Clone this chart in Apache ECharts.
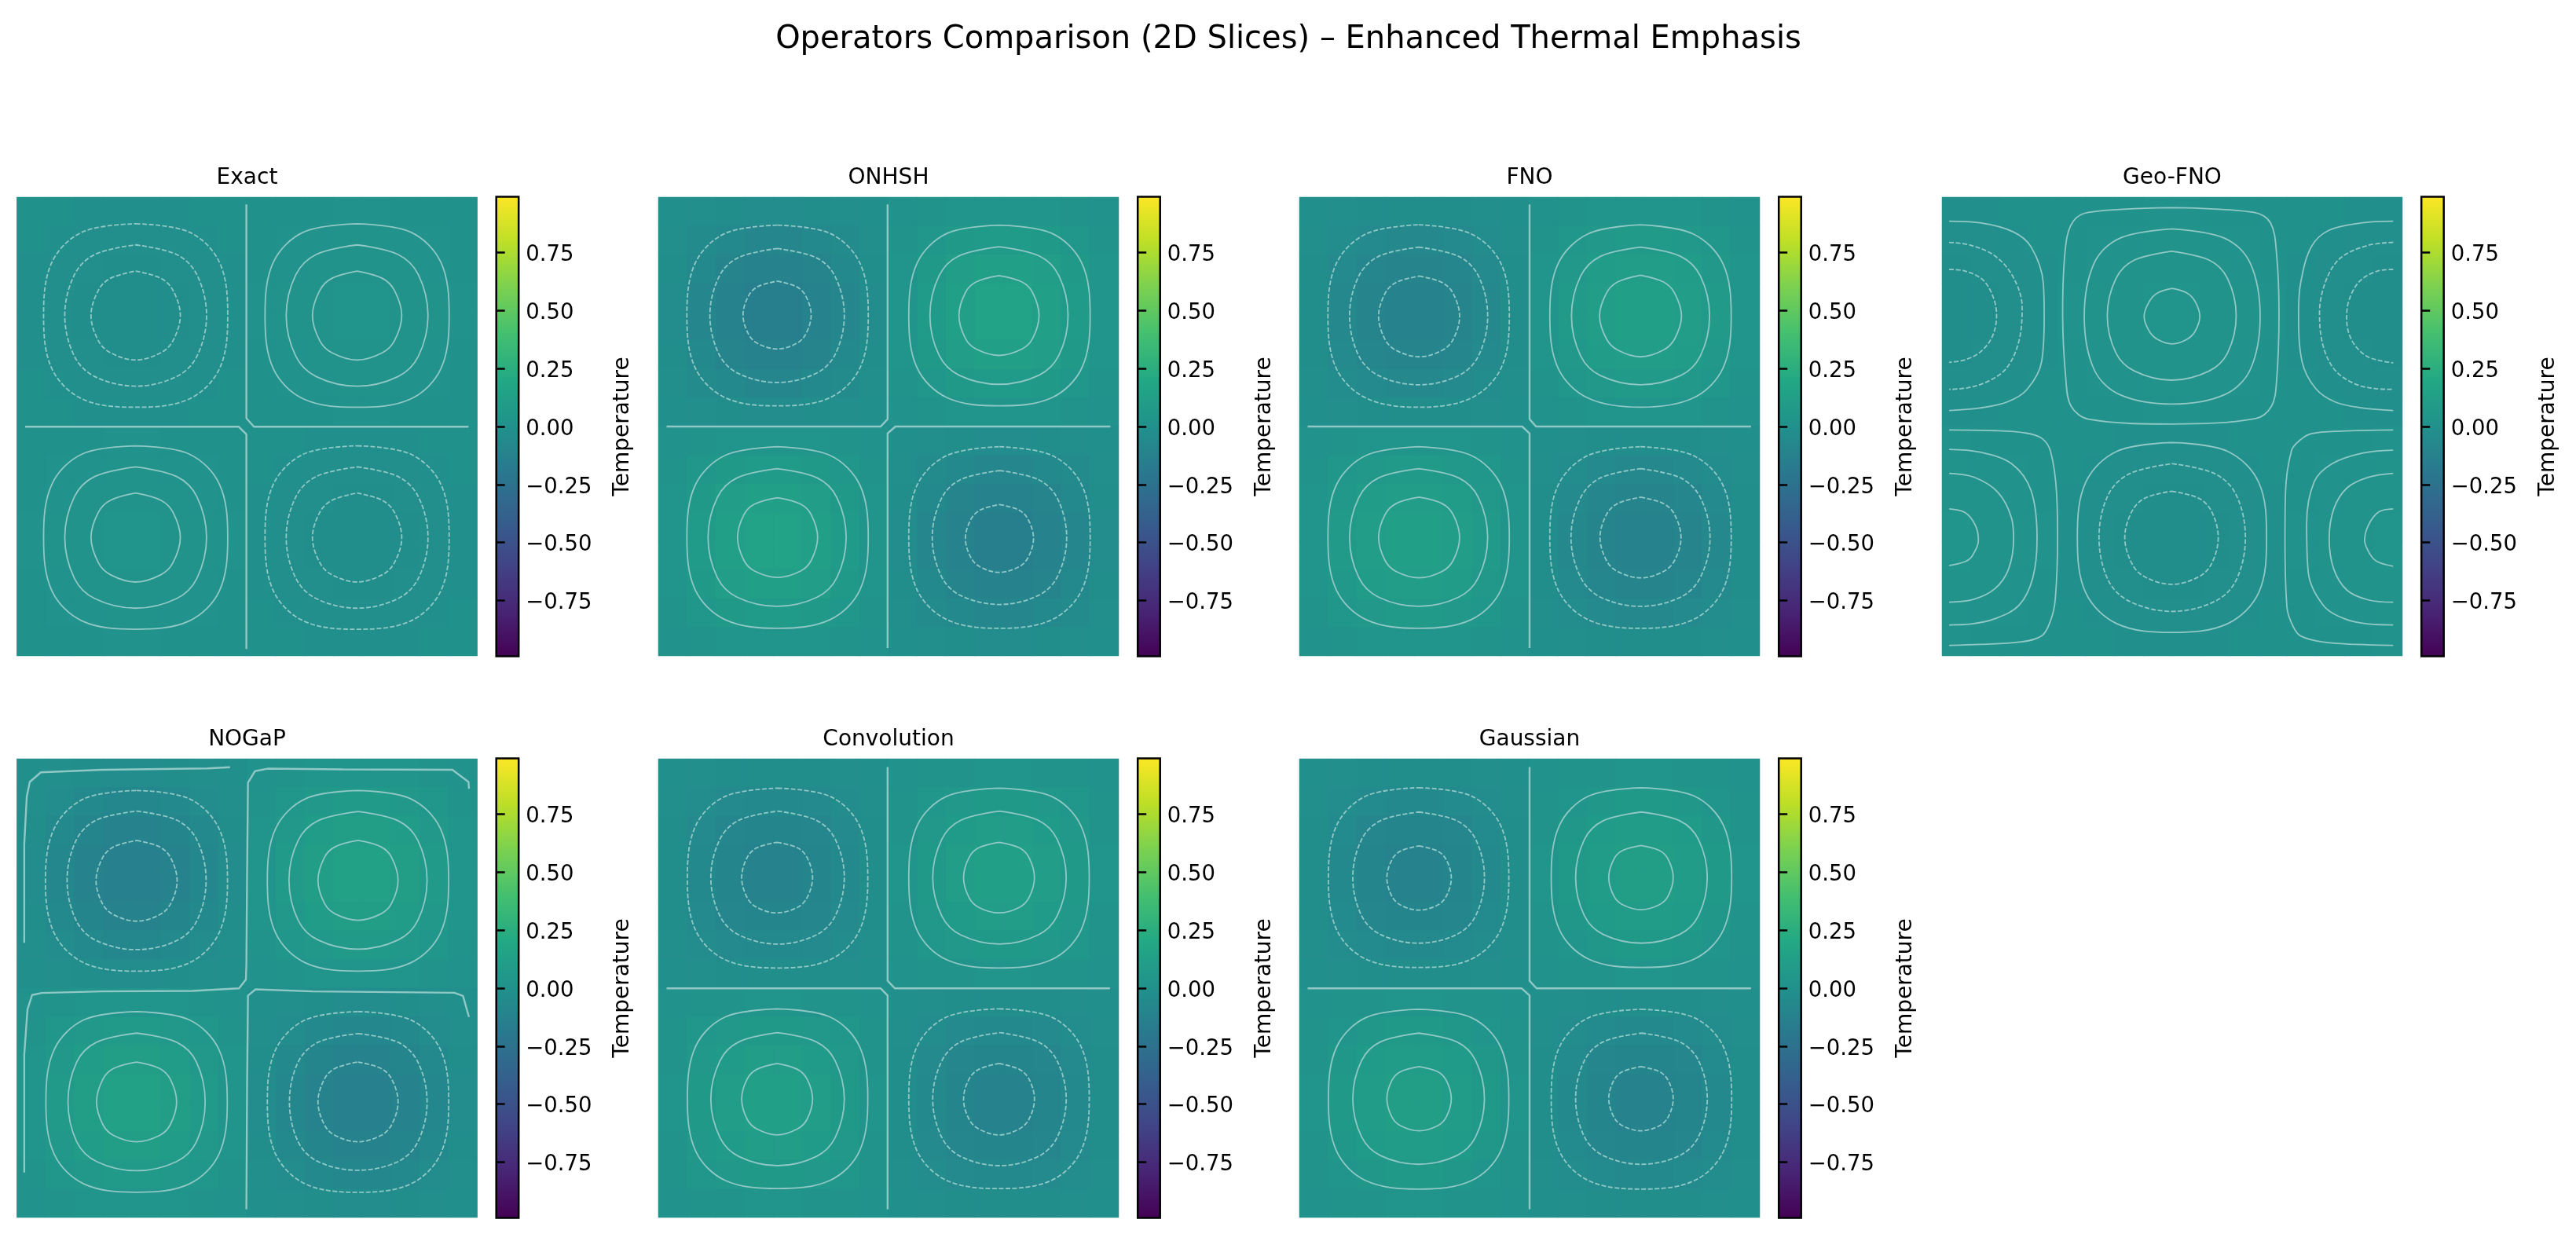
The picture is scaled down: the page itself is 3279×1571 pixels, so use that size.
<!DOCTYPE html>
<html>
<head>
<meta charset="utf-8">
<title>Operators Comparison</title>
<script src="https://cdn.jsdelivr.net/npm/echarts@6/dist/echarts.min.js"></script>
<style>
  html, body { margin: 0; padding: 0; background: #fff; }
  #chart { width: 3279px; height: 1571px; }
</style>
</head>
<body>
<div id="chart"></div>
<script>
const chartTitle = 'Operators Comparison (2D Slices) – Enhanced Thermal Emphasis';
const panelNames = ['Exact', 'ONHSH', 'FNO', 'Geo-FNO', 'NOGaP', 'Convolution', 'Gaussian'];
const colorbarTicks = [-0.75, -0.5, -0.25, 0, 0.25, 0.5, 0.75];
const colorbarLimit = 0.99;
const viridis = ['#440154', '#482475', '#414487', '#355f8d', '#2a788e', '#21918c', '#22a884', '#44bf70', '#7ad151', '#bddf26', '#fde725'];

// temperature, in thousandths, 16 x 16 cells, top row first
const exactField = [
  [-1,-3,-4,-5,-5,-4,-3,-1,1,3,4,5,5,4,3,1],
  [-3,-8,-12,-14,-14,-12,-8,-3,3,8,12,14,14,12,8,3],
  [-4,-12,-17,-20,-20,-17,-12,-4,4,12,17,20,20,17,12,4],
  [-5,-14,-20,-24,-24,-20,-14,-5,5,14,20,24,24,20,14,5],
  [-5,-14,-20,-24,-24,-20,-14,-5,5,14,20,24,24,20,14,5],
  [-4,-12,-17,-20,-20,-17,-12,-4,4,12,17,20,20,17,12,4],
  [-3,-8,-12,-14,-14,-12,-8,-3,3,8,12,14,14,12,8,3],
  [-1,-3,-4,-5,-5,-4,-3,-1,1,3,4,5,5,4,3,1],
  [1,3,4,5,5,4,3,1,-1,-3,-4,-5,-5,-4,-3,-1],
  [3,8,12,14,14,12,8,3,-3,-8,-12,-14,-14,-12,-8,-3],
  [4,12,17,20,20,17,12,4,-4,-12,-17,-20,-20,-17,-12,-4],
  [5,14,20,24,24,20,14,5,-5,-14,-20,-24,-24,-20,-14,-5],
  [5,14,20,24,24,20,14,5,-5,-14,-20,-24,-24,-20,-14,-5],
  [4,12,17,20,20,17,12,4,-4,-12,-17,-20,-20,-17,-12,-4],
  [3,8,12,14,14,12,8,3,-3,-8,-12,-14,-14,-12,-8,-3],
  [1,3,4,5,5,4,3,1,-1,-3,-4,-5,-5,-4,-3,-1],
];
const onhshField = [
  [-6,-16,-25,-29,-29,-25,-16,-6,6,17,26,30,30,26,17,6],
  [-16,-45,-67,-80,-80,-67,-45,-16,17,47,69,83,83,69,47,17],
  [-25,-67,-100,-117,-117,-100,-67,-25,26,69,104,122,122,104,69,26],
  [-29,-80,-117,-139,-139,-117,-80,-29,30,83,122,144,144,122,83,30],
  [-29,-80,-117,-139,-139,-117,-80,-29,30,83,122,144,144,122,83,30],
  [-25,-67,-100,-117,-117,-100,-67,-25,26,69,104,122,122,104,69,26],
  [-16,-45,-67,-80,-80,-67,-45,-16,17,47,69,83,83,69,47,17],
  [-6,-16,-25,-29,-29,-25,-16,-6,6,17,26,30,30,26,17,6],
  [6,17,26,30,30,26,17,6,-6,-16,-25,-29,-29,-25,-16,-6],
  [17,47,69,83,83,69,47,17,-16,-45,-67,-80,-80,-67,-45,-16],
  [26,69,104,122,122,104,69,26,-25,-67,-100,-117,-117,-100,-67,-25],
  [30,83,122,144,144,122,83,30,-29,-80,-117,-139,-139,-117,-80,-29],
  [30,83,122,144,144,122,83,30,-29,-80,-117,-139,-139,-117,-80,-29],
  [26,69,104,122,122,104,69,26,-25,-67,-100,-117,-117,-100,-67,-25],
  [17,47,69,83,83,69,47,17,-16,-45,-67,-80,-80,-67,-45,-16],
  [6,17,26,30,30,26,17,6,-6,-16,-25,-29,-29,-25,-16,-6],
];
const fnoField = [
  [-5,-14,-21,-25,-25,-21,-14,-5,5,15,23,27,27,23,15,5],
  [-14,-39,-58,-69,-69,-58,-39,-14,15,42,62,74,74,62,42,15],
  [-21,-58,-86,-101,-101,-86,-58,-21,23,62,93,109,109,93,62,23],
  [-25,-69,-101,-120,-120,-101,-69,-25,27,74,109,130,130,109,74,27],
  [-25,-69,-101,-120,-120,-101,-69,-25,27,74,109,130,130,109,74,27],
  [-21,-58,-86,-101,-101,-86,-58,-21,23,62,93,109,109,93,62,23],
  [-14,-39,-58,-69,-69,-58,-39,-14,15,42,62,74,74,62,42,15],
  [-5,-14,-21,-25,-25,-21,-14,-5,5,15,23,27,27,23,15,5],
  [5,15,23,27,27,23,15,5,-5,-14,-21,-25,-25,-21,-14,-5],
  [15,42,62,74,74,62,42,15,-14,-39,-58,-69,-69,-58,-39,-14],
  [23,62,93,109,109,93,62,23,-21,-58,-86,-101,-101,-86,-58,-21],
  [27,74,109,130,130,109,74,27,-25,-69,-101,-120,-120,-101,-69,-25],
  [27,74,109,130,130,109,74,27,-25,-69,-101,-120,-120,-101,-69,-25],
  [23,62,93,109,109,93,62,23,-21,-58,-86,-101,-101,-86,-58,-21],
  [15,42,62,74,74,62,42,15,-14,-39,-58,-69,-69,-58,-39,-14],
  [5,15,23,27,27,23,15,5,-5,-14,-21,-25,-25,-21,-14,-5],
];
const geoField = [
  [-5,-4,-3,-1,1,3,4,5,5,4,3,1,-1,-3,-4,-5],
  [-14,-12,-8,-3,3,8,12,14,14,12,8,3,-3,-8,-12,-14],
  [-20,-17,-12,-4,4,12,17,20,20,17,12,4,-4,-12,-17,-20],
  [-24,-20,-14,-5,5,14,20,24,24,20,14,5,-5,-14,-20,-24],
  [-24,-20,-14,-5,5,14,20,24,24,20,14,5,-5,-14,-20,-24],
  [-20,-17,-12,-4,4,12,17,20,20,17,12,4,-4,-12,-17,-20],
  [-14,-12,-8,-3,3,8,12,14,14,12,8,3,-3,-8,-12,-14],
  [-5,-4,-3,-1,1,3,4,5,5,4,3,1,-1,-3,-4,-5],
  [5,4,3,1,-1,-3,-4,-5,-5,-4,-3,-1,1,3,4,5],
  [14,12,8,3,-3,-8,-12,-14,-14,-12,-8,-3,3,8,12,14],
  [20,17,12,4,-4,-12,-17,-20,-20,-17,-12,-4,4,12,17,20],
  [24,20,14,5,-5,-14,-20,-24,-24,-20,-14,-5,5,14,20,24],
  [24,20,14,5,-5,-14,-20,-24,-24,-20,-14,-5,5,14,20,24],
  [20,17,12,4,-4,-12,-17,-20,-20,-17,-12,-4,4,12,17,20],
  [14,12,8,3,-3,-8,-12,-14,-14,-12,-8,-3,3,8,12,14],
  [5,4,3,1,-1,-3,-4,-5,-5,-4,-3,-1,1,3,4,5],
];
const nogapField = [
  [-6,-15,-24,-28,-28,-24,-15,-6,6,15,24,28,28,24,15,6],
  [-15,-43,-64,-77,-77,-64,-43,-15,15,43,64,77,77,64,43,15],
  [-24,-64,-97,-113,-113,-97,-64,-24,24,64,97,113,113,97,64,24],
  [-28,-77,-113,-134,-134,-113,-77,-28,28,77,113,134,134,113,77,28],
  [-28,-77,-113,-134,-134,-113,-77,-28,28,77,113,134,134,113,77,28],
  [-24,-64,-97,-113,-113,-97,-64,-24,24,64,97,113,113,97,64,24],
  [-15,-43,-64,-77,-77,-64,-43,-15,15,43,64,77,77,64,43,15],
  [-6,-15,-24,-28,-28,-24,-15,-6,6,15,24,28,28,24,15,6],
  [6,15,24,28,28,24,15,6,-6,-15,-24,-28,-28,-24,-15,-6],
  [15,43,64,77,77,64,43,15,-15,-43,-64,-77,-77,-64,-43,-15],
  [24,64,97,113,113,97,64,24,-24,-64,-97,-113,-113,-97,-64,-24],
  [28,77,113,134,134,113,77,28,-28,-77,-113,-134,-134,-113,-77,-28],
  [28,77,113,134,134,113,77,28,-28,-77,-113,-134,-134,-113,-77,-28],
  [24,64,97,113,113,97,64,24,-24,-64,-97,-113,-113,-97,-64,-24],
  [15,43,64,77,77,64,43,15,-15,-43,-64,-77,-77,-64,-43,-15],
  [6,15,24,28,28,24,15,6,-6,-15,-24,-28,-28,-24,-15,-6],
];
const convField = [
  [-5,-13,-20,-24,-24,-20,-13,-5,5,14,21,25,25,21,14,5],
  [-13,-37,-55,-66,-66,-55,-37,-13,14,39,58,69,69,58,39,14],
  [-20,-55,-83,-97,-97,-83,-55,-20,21,58,86,101,101,86,58,21],
  [-24,-66,-97,-115,-115,-97,-66,-24,25,69,101,120,120,101,69,25],
  [-24,-66,-97,-115,-115,-97,-66,-24,25,69,101,120,120,101,69,25],
  [-20,-55,-83,-97,-97,-83,-55,-20,21,58,86,101,101,86,58,21],
  [-13,-37,-55,-66,-66,-55,-37,-13,14,39,58,69,69,58,39,14],
  [-5,-13,-20,-24,-24,-20,-13,-5,5,14,21,25,25,21,14,5],
  [5,14,21,25,25,21,14,5,-5,-13,-20,-24,-24,-20,-13,-5],
  [14,39,58,69,69,58,39,14,-13,-37,-55,-66,-66,-55,-37,-13],
  [21,58,86,101,101,86,58,21,-20,-55,-83,-97,-97,-83,-55,-20],
  [25,69,101,120,120,101,69,25,-24,-66,-97,-115,-115,-97,-66,-24],
  [25,69,101,120,120,101,69,25,-24,-66,-97,-115,-115,-97,-66,-24],
  [21,58,86,101,101,86,58,21,-20,-55,-83,-97,-97,-83,-55,-20],
  [14,39,58,69,69,58,39,14,-13,-37,-55,-66,-66,-55,-37,-13],
  [5,14,21,25,25,21,14,5,-5,-13,-20,-24,-24,-20,-13,-5],
];
const gaussField = [
  [-5,-13,-20,-23,-23,-20,-13,-5,5,13,20,24,24,20,13,5],
  [-13,-36,-53,-63,-63,-53,-36,-13,13,37,55,66,66,55,37,13],
  [-20,-53,-79,-93,-93,-79,-53,-20,20,55,83,97,97,83,55,20],
  [-23,-63,-93,-110,-110,-93,-63,-23,24,66,97,115,115,97,66,24],
  [-23,-63,-93,-110,-110,-93,-63,-23,24,66,97,115,115,97,66,24],
  [-20,-53,-79,-93,-93,-79,-53,-20,20,55,83,97,97,83,55,20],
  [-13,-36,-53,-63,-63,-53,-36,-13,13,37,55,66,66,55,37,13],
  [-5,-13,-20,-23,-23,-20,-13,-5,5,13,20,24,24,20,13,5],
  [5,13,20,24,24,20,13,5,-5,-13,-20,-23,-23,-20,-13,-5],
  [13,37,55,66,66,55,37,13,-13,-36,-53,-63,-63,-53,-36,-13],
  [20,55,83,97,97,83,55,20,-20,-53,-79,-93,-93,-79,-53,-20],
  [24,66,97,115,115,97,66,24,-23,-63,-93,-110,-110,-93,-63,-23],
  [24,66,97,115,115,97,66,24,-23,-63,-93,-110,-110,-93,-63,-23],
  [20,55,83,97,97,83,55,20,-20,-53,-79,-93,-93,-79,-53,-20],
  [13,37,55,66,66,55,37,13,-13,-36,-53,-63,-63,-53,-36,-13],
  [5,13,20,24,24,20,13,5,-5,-13,-20,-23,-23,-20,-13,-5],
];

// contour lines: flat x,y lists, percent of the panel, y from the top
const exactDashed = [
  [25.8,5.8,37.4,7.6,44,14.2,45.8,25.8,44,37.4,37.4,44,25.8,45.8,14.2,44,7.6,37.4,5.8,25.8,7.6,14.2,14.2,7.6,25.8,5.8],
  [25.8,10.4,34.7,12.5,39.1,16.9,41.2,25.8,39.1,34.7,34.7,39.1,25.8,41.2,16.9,39.1,12.5,34.7,10.4,25.8,12.5,16.9,16.9,12.5,25.8,10.4],
  [25.8,16.1,31.3,17.7,33.9,20.3,35.5,25.8,33.9,31.3,31.3,33.9,25.8,35.5,20.3,33.9,17.7,31.3,16.1,25.8,17.7,20.3,20.3,17.7,25.8,16.1],
  [73.9,54.2,85.5,56,92.1,62.6,93.9,74.2,92.1,85.8,85.5,92.4,73.9,94.2,62.3,92.4,55.7,85.8,53.9,74.2,55.7,62.6,62.3,56,73.9,54.2],
  [73.9,58.8,82.8,60.9,87.2,65.3,89.3,74.2,87.2,83.1,82.8,87.5,73.9,89.6,65,87.5,60.6,83.1,58.5,74.2,60.6,65.3,65,60.9,73.9,58.8],
  [73.9,64.5,79.4,66.1,82,68.7,83.6,74.2,82,79.7,79.4,82.3,73.9,83.9,68.4,82.3,65.8,79.7,64.2,74.2,65.8,68.7,68.4,66.1,73.9,64.5],
];
const exactSolid = [
  [73.9,5.8,85.5,7.6,92.1,14.2,93.9,25.8,92.1,37.4,85.5,44,73.9,45.8,62.3,44,55.7,37.4,53.9,25.8,55.7,14.2,62.3,7.6,73.9,5.8],
  [73.9,10.4,82.8,12.5,87.2,16.9,89.3,25.8,87.2,34.7,82.8,39.1,73.9,41.2,65,39.1,60.6,34.7,58.5,25.8,60.6,16.9,65,12.5,73.9,10.4],
  [73.9,16.1,79.4,17.7,82,20.3,83.6,25.8,82,31.3,79.4,33.9,73.9,35.5,68.4,33.9,65.8,31.3,64.2,25.8,65.8,20.3,68.4,17.7,73.9,16.1],
  [25.8,54.2,37.4,56,44,62.6,45.8,74.2,44,85.8,37.4,92.4,25.8,94.2,14.2,92.4,7.6,85.8,5.8,74.2,7.6,62.6,14.2,56,25.8,54.2],
  [25.8,58.8,34.7,60.9,39.1,65.3,41.2,74.2,39.1,83.1,34.7,87.5,25.8,89.6,16.9,87.5,12.5,83.1,10.4,74.2,12.5,65.3,16.9,60.9,25.8,58.8],
  [25.8,64.5,31.3,66.1,33.9,68.7,35.5,74.2,33.9,79.7,31.3,82.3,25.8,83.9,20.3,82.3,17.7,79.7,16.1,74.2,17.7,68.7,20.3,66.1,25.8,64.5],
];
const exactZero = [
  [49.85,1.6,49.85,48.2,51.5,50.05,98.1,50.05],
  [1.8,50.05,48.2,50.05,49.85,51.7,49.85,98.5],
];

const onhshDashed = [
  [25.9,6.1,37.3,7.9,43.8,14.4,45.6,25.8,43.8,37.2,37.3,43.7,25.9,45.5,14.5,43.7,8,37.2,6.2,25.8,8,14.4,14.5,7.9,25.9,6.1],
  [25.8,11.2,34.3,13.2,38.4,17.3,40.4,25.8,38.4,34.3,34.3,38.4,25.8,40.4,17.3,38.4,13.2,34.3,11.2,25.8,13.2,17.3,17.3,13.2,25.8,11.2],
  [25.8,18.3,30,19.5,32,21.5,33.2,25.7,32,29.9,30,31.9,25.8,33.1,21.6,31.9,19.6,29.9,18.4,25.7,19.6,21.5,21.6,19.5,25.8,18.3],
  [74.1,54.4,85.5,56.3,92,62.8,93.8,74.2,92,85.6,85.5,92.1,74.1,94,62.7,92.1,56.2,85.6,54.4,74.2,56.2,62.8,62.7,56.3,74.1,54.4],
  [74.1,59.6,82.6,61.6,86.7,65.7,88.7,74.2,86.7,82.7,82.6,86.8,74.1,88.8,65.6,86.8,61.5,82.7,59.5,74.2,61.5,65.7,65.6,61.6,74.1,59.6],
  [74.1,67,78.3,68.2,80.3,70.2,81.5,74.4,80.3,78.6,78.3,80.6,74.1,81.8,69.9,80.6,67.9,78.6,66.7,74.4,67.9,70.2,69.9,68.2,74.1,67],
];
const onhshSolid = [
  [74.1,6.1,85.5,7.9,92,14.4,93.8,25.8,92,37.2,85.5,43.7,74.1,45.5,62.7,43.7,56.2,37.2,54.4,25.8,56.2,14.4,62.7,7.9,74.1,6.1],
  [74,10.8,82.7,12.8,87,17.1,89,25.8,87,34.5,82.7,38.8,74,40.8,65.3,38.8,61,34.5,59,25.8,61,17.1,65.3,12.8,74,10.8],
  [74,17.1,79,18.5,81.3,20.8,82.7,25.8,81.3,30.8,79,33.1,74,34.5,69,33.1,66.7,30.8,65.3,25.8,66.7,20.8,69,18.5,74,17.1],
  [25.9,54.4,37.3,56.3,43.8,62.8,45.6,74.2,43.8,85.6,37.3,92.1,25.9,94,14.5,92.1,8,85.6,6.2,74.2,8,62.8,14.5,56.3,25.9,54.4],
  [25.8,59.2,34.5,61.2,38.8,65.5,40.8,74.2,38.8,82.9,34.5,87.2,25.8,89.2,17.1,87.2,12.8,82.9,10.8,74.2,12.8,65.5,17.1,61.2,25.8,59.2],
  [25.9,65.5,30.9,66.9,33.2,69.2,34.6,74.2,33.2,79.2,30.9,81.5,25.9,82.9,20.9,81.5,18.6,79.2,17.2,74.2,18.6,69.2,20.9,66.9,25.9,65.5],
];
const onhshZero = [
  [1.8,50,48.3,50,49.8,48.4,49.8,1.6],
  [98.2,50,51.5,50,49.8,51.5,49.8,98.3],
];

const fnoDashed = [
  [25.9,6,37.3,8,43.8,14.5,45.6,25.9,43.8,37.3,37.3,43.8,25.9,45.8,14.5,43.8,8,37.3,6.2,25.9,8,14.5,14.5,8,25.9,6],
  [25.9,10.9,34.6,12.9,38.9,17.2,40.9,25.9,38.9,34.6,34.6,38.9,25.9,40.9,17.2,38.9,12.9,34.6,10.9,25.9,12.9,17.2,17.2,12.9,25.9,10.9],
  [26,17.2,31,18.6,33.4,21,34.8,26,33.4,31,31,33.4,26,34.8,21,33.4,18.6,31,17.2,26,18.6,21,21,18.6,26,17.2],
  [74.1,54.4,85.5,56.3,92,62.8,93.8,74.2,92,85.6,85.5,92.1,74.1,94,62.7,92.1,56.2,85.6,54.4,74.2,56.2,62.8,62.7,56.3,74.1,54.4],
  [74.1,59.2,82.8,61.2,87.1,65.5,89.2,74.2,87.1,82.9,82.8,87.2,74.1,89.2,65.4,87.2,61.1,82.9,59,74.2,61.1,65.5,65.4,61.2,74.1,59.2],
  [74.1,65.4,79.1,66.8,81.5,69.2,82.9,74.2,81.5,79.2,79.1,81.6,74.1,83,69.1,81.6,66.7,79.2,65.3,74.2,66.7,69.2,69.1,66.8,74.1,65.4],
];
const fnoSolid = [
  [74.1,6,85.5,8,92,14.5,93.8,25.9,92,37.3,85.5,43.8,74.1,45.8,62.7,43.8,56.2,37.3,54.4,25.9,56.2,14.5,62.7,8,74.1,6],
  [74.1,10.9,82.8,12.9,87.1,17.2,89.1,25.9,87.1,34.6,82.8,38.9,74.1,40.9,65.4,38.9,61.1,34.6,59.1,25.9,61.1,17.2,65.4,12.9,74.1,10.9],
  [74.1,17,79.1,18.5,81.5,20.9,83,25.9,81.5,30.9,79.1,33.3,74.1,34.8,69.1,33.3,66.7,30.9,65.2,25.9,66.7,20.9,69.1,18.5,74.1,17],
  [25.9,54.4,37.3,56.3,43.8,62.8,45.6,74.2,43.8,85.6,37.3,92.1,25.9,94,14.5,92.1,8,85.6,6.2,74.2,8,62.8,14.5,56.3,25.9,54.4],
  [25.9,59.2,34.6,61.2,38.9,65.5,40.9,74.2,38.9,82.9,34.6,87.2,25.9,89.2,17.2,87.2,12.9,82.9,10.9,74.2,12.9,65.5,17.2,61.2,25.9,59.2],
  [26,65.4,31,66.8,33.4,69.2,34.8,74.2,33.4,79.2,31,81.6,26,83,21,81.6,18.6,79.2,17.2,74.2,18.6,69.2,21,66.8,26,65.4],
];
const fnoZero = [
  [50,1.6,50,48.4,51.4,50,98.1,50],
  [1.8,50,48.4,50,50,51.5,50,98.3],
];

const geoDashed = [
  [50,58.1,59.3,60.3,63.9,64.9,65.9,74.2,63.9,83.5,59.3,88.1,50,90.3,40.7,88.1,36.1,83.5,34.1,74.2,36.1,64.9,40.7,60.3,50,58.1],
  [49.9,64.1,55.7,65.6,58.5,68.4,60,74.2,58.5,80,55.7,82.8,49.9,84.4,44.1,82.8,41.3,80,39.7,74.2,41.3,68.4,44.1,65.6,49.9,64.1],
  [1.55,9.85,6.3,10.5,11.5,12.8,15.45,17.4,17.4,23.95,16.75,31.2,14.15,37.1,10.2,40.05,5.6,41.55,1.55,41.9],
  [1.55,15.75,5,16.1,8.9,18.05,11.2,22,11.85,25.95,10.85,30.55,8.25,33.8,5,35.45,1.55,36],
  [98,9.85,92.6,10.5,86.7,13.15,83.45,18.05,82,25.3,82.8,32.5,85.4,37.75,89.65,40.7,93.9,41.7,98,41.9],
  [98,15.75,94.6,16.1,90.65,18.4,88.35,22.65,87.9,26.6,89,31.2,91.95,34.5,95.2,35.65,98,36.1],
];
const geoSolid = [
  [49.9,2.3,67.75,3.3,71.35,5.6,72.65,12.15,73.2,25.3,72.65,40.4,71.55,45.6,68.1,48.25,49.9,49.45,31.8,48.4,28,45.5,26.9,39.7,26.2,25.3,26.9,10.2,28.5,5.25,31.8,3.3,49.9,2.3],
  [50,6.9,61.5,9,67,14.5,69.1,26,67,37.5,61.5,43,50,45.1,38.5,43,33,37.5,30.9,26,33,14.5,38.5,9,50,6.9],
  [49.9,11.8,58,13.7,62,17.7,63.9,25.85,62,34,58,37.9,49.9,39.9,41.8,37.9,37.8,34,35.9,25.85,37.8,17.7,41.8,13.7,49.9,11.8],
  [50,19.9,53.2,20.9,55,22.8,56,26,55,29.2,53.2,31,50,32,46.8,31,45,29.2,43.9,26,45,22.8,46.8,20.9,50,19.9],
  [50,53.5,62,55.4,68.8,62.2,70.5,74.2,68.8,86.2,62,93,50,94.9,38,93,31.2,86.2,29.4,74.2,31.2,62.2,38,55.4,50,53.5],
  [1.55,5.25,8.25,5.6,15.45,7.55,19.35,10.85,22,18.7,22.2,25.95,21.65,35.8,18.4,42,14.15,44.65,8.25,45.95,1.55,46.5],
  [98,5.25,91.3,5.6,84.1,7.2,80.2,10.85,77.9,18.7,77.45,25.3,78.2,35.8,81.15,41.7,85.4,44.65,91.3,45.95,98,46.5],
  [1.55,50.75,11.5,50.9,18.05,51.4,21.65,52.55,23.6,55.5,24.9,64.7,25.1,74.5,24.6,87.65,23.6,92.25,21.65,95.65,16.75,97,8.25,97.5,1.55,97.7],
  [1.55,55,8.25,55.6,15.1,58.1,19.35,64,20.65,74.5,19.7,83.05,16.75,88.95,11.5,91.9,6.3,93.05,1.55,93.25],
  [1.55,60.2,6.95,61.05,12.15,64.35,15.1,69.95,15.55,74.5,14.45,81.1,11.5,85.35,6.95,87.65,1.55,88.3],
  [1.55,67.95,5,68.75,7.25,71.55,7.9,74.85,6.6,78.15,5,79.45,1.55,80.3],
  [98,50.75,86.7,51,80.2,51.55,77.9,52.85,75.95,55.15,74.6,64.7,74.5,74.5,74.95,89.6,76.25,93.55,77.9,95.65,82.8,97,90,97.5,98,97.7],
  [98,55.15,91.3,55.8,84.75,58.1,80.85,62.05,79.2,71.25,79.55,81.75,82.8,88.95,87.4,91.9,92.6,93.05,98,93.25],
  [98,60.2,92.6,61.05,88,63.35,85.1,67.95,84.1,74.5,85.1,81.1,88,85.7,92.6,87.8,98,88.3],
  [98,67.95,94.9,68.6,92.6,71.55,91.8,74.85,92.95,77.8,94.55,79.45,98,80.45],
];
const geoZero = [];

const nogapDashed = [
  [26,6.9,37.4,8.7,43.9,15.2,45.75,26.6,43.9,38,37.4,44.5,26,46.3,14.6,44.5,8.1,38,6.2,26.6,8.1,15.2,14.6,8.7,26,6.9],
  [26,11.4,34.8,13.4,39.1,17.7,41.1,26.5,39.1,35.3,34.8,39.6,26,41.6,17.2,39.6,12.9,35.3,10.9,26.5,12.9,17.7,17.2,13.4,26,11.4],
  [26,17.8,31,19.2,33.4,21.6,34.8,26.6,33.4,31.6,31,34,26,35.4,21,34,18.6,31.6,17.2,26.6,18.6,21.6,21,19.2,26,17.8],
  [74.1,55.1,85.5,56.9,92,63.4,93.8,74.8,92,86.2,85.5,92.7,74.1,94.5,62.7,92.7,56.2,86.2,54.4,74.8,56.2,63.4,62.7,56.9,74.1,55.1],
  [74.1,59.9,82.8,61.8,87.1,66.1,89.1,74.8,87.1,83.5,82.8,87.8,74.1,89.7,65.4,87.8,61.1,83.5,59.2,74.8,61.1,66.1,65.4,61.8,74.1,59.9],
  [74.1,66.1,79.1,67.5,81.4,69.8,82.8,74.8,81.4,79.8,79.1,82.1,74.1,83.5,69.1,82.1,66.8,79.8,65.4,74.8,66.8,69.8,69.1,67.5,74.1,66.1],
];
const nogapSolid = [
  [74.1,6.9,85.5,8.7,92,15.2,93.8,26.6,92,38,85.5,44.5,74.1,46.3,62.7,44.5,56.2,38,54.4,26.6,56.2,15.2,62.7,8.7,74.1,6.9],
  [74.1,11.5,82.8,13.5,87.1,17.8,89.1,26.5,87.1,35.2,82.8,39.5,74.1,41.5,65.4,39.5,61.1,35.2,59.1,26.5,61.1,17.8,65.4,13.5,74.1,11.5],
  [74.1,17.8,79.1,19.2,81.4,21.5,82.8,26.5,81.4,31.5,79.1,33.8,74.1,35.2,69.1,33.8,66.8,31.5,65.4,26.5,66.8,21.5,69.1,19.2,74.1,17.8],
  [26,55.1,37.4,56.9,43.9,63.4,45.7,74.8,43.9,86.2,37.4,92.7,26,94.5,14.6,92.7,8.1,86.2,6.3,74.8,8.1,63.4,14.6,56.9,26,55.1],
  [26,59.8,34.7,61.8,39,66.1,40.9,74.8,39,83.5,34.7,87.8,26,89.8,17.3,87.8,13,83.5,11.1,74.8,13,66.1,17.3,61.8,26,59.8],
  [26,66.1,31,67.5,33.3,69.8,34.7,74.8,33.3,79.8,31,82.1,26,83.5,21,82.1,18.7,79.8,17.3,74.8,18.7,69.8,21,67.5,26,66.1],
];
const nogapZero = [
  [1.6,40.1,1.6,18.65,2.15,8.2,2.8,5.05,5.2,2.95,18.5,2.4,41.4,2.1,46.3,1.85],
  [98.2,6.55,98.1,5.05,94.6,2.4,70.8,2.3,54.45,2.15,51.7,2.7,50.2,5.2,50,25.2,49.85,44.8,49.75,48.1,48.25,50.05,38.1,50.6,18.5,50.7,5.4,51.05,3.3,51.5,2.3,54.65,1.6,64.5,1.6,90.2],
  [98.2,56.3,96.9,51.7,95,51,64.25,50.7,51.85,50.25,50.2,51.6,50,71,49.85,98.2],
];

const convDashed = [
  [25.9,6.4,37.3,8.2,43.7,14.6,45.5,26,43.7,37.4,37.3,43.8,25.9,45.6,14.5,43.8,8.1,37.4,6.3,26,8.1,14.6,14.5,8.2,25.9,6.4],
  [25.9,11.4,34.3,13.4,38.4,17.5,40.4,25.9,38.4,34.3,34.3,38.4,25.9,40.4,17.5,38.4,13.4,34.3,11.4,25.9,13.4,17.5,17.5,13.4,25.9,11.4],
  [25.8,18.2,30.2,19.4,32.3,21.5,33.5,25.9,32.3,30.3,30.2,32.4,25.8,33.6,21.4,32.4,19.3,30.3,18.1,25.9,19.3,21.5,21.4,19.4,25.8,18.2],
  [74,54.5,85.4,56.3,91.8,62.7,93.6,74.1,91.8,85.5,85.4,91.9,74,93.7,62.6,91.9,56.2,85.5,54.4,74.1,56.2,62.7,62.6,56.3,74,54.5],
  [74.1,59.7,82.5,61.7,86.6,65.8,88.6,74.2,86.6,82.6,82.5,86.7,74.1,88.7,65.7,86.7,61.6,82.6,59.6,74.2,61.6,65.8,65.7,61.7,74.1,59.7],
  [74,66.4,78.4,67.7,80.5,69.8,81.7,74.2,80.5,78.6,78.4,80.7,74,82,69.6,80.7,67.5,78.6,66.3,74.2,67.5,69.8,69.6,67.7,74,66.4],
];
const convSolid = [
  [74,6.4,85.4,8.2,91.8,14.6,93.6,26,91.8,37.4,85.4,43.8,74,45.6,62.6,43.8,56.2,37.4,54.4,26,56.2,14.6,62.6,8.2,74,6.4],
  [74.1,11.4,82.5,13.4,86.6,17.5,88.6,25.9,86.6,34.3,82.5,38.4,74.1,40.4,65.7,38.4,61.6,34.3,59.6,25.9,61.6,17.5,65.7,13.4,74.1,11.4],
  [74,18.2,78.4,19.4,80.5,21.5,81.7,25.9,80.5,30.3,78.4,32.4,74,33.6,69.6,32.4,67.5,30.3,66.3,25.9,67.5,21.5,69.6,19.4,74,18.2],
  [25.9,54.5,37.3,56.3,43.7,62.7,45.5,74.1,43.7,85.5,37.3,91.9,25.9,93.7,14.5,91.9,8.1,85.5,6.3,74.1,8.1,62.7,14.5,56.3,25.9,54.5],
  [25.9,59.7,34.3,61.7,38.4,65.8,40.4,74.2,38.4,82.6,34.3,86.7,25.9,88.7,17.5,86.7,13.4,82.6,11.4,74.2,13.4,65.8,17.5,61.7,25.9,59.7],
  [25.8,66.4,30.2,67.7,32.3,69.8,33.5,74.2,32.3,78.6,30.2,80.7,25.8,82,21.4,80.7,19.3,78.6,18.1,74.2,19.3,69.8,21.4,67.7,25.8,66.4],
];
const convZero = [
  [49.8,1.8,49.8,48.4,51.4,50.05,98.1,50.05],
  [1.8,50.05,48.3,50.05,49.8,51.6,49.8,98.2],
];

const gaussDashed = [
  [25.9,6.3,37.3,8.1,43.7,14.5,45.5,25.9,43.7,37.3,37.3,43.7,25.9,45.5,14.5,43.7,8.1,37.3,6.3,25.9,8.1,14.5,14.5,8.1,25.9,6.3],
  [25.9,11.6,34.2,13.5,38.3,17.6,40.2,25.9,38.3,34.2,34.2,38.3,25.9,40.2,17.6,38.3,13.5,34.2,11.6,25.9,13.5,17.6,17.6,13.5,25.9,11.6],
  [26,19,30,20.1,31.9,22,33,26,31.9,30,30,31.9,26,33,22,31.9,20.1,30,19,26,20.1,22,22,20.1,26,19],
  [74.3,54.6,85.7,56.4,92.1,62.8,93.9,74.2,92.1,85.6,85.7,92,74.3,93.8,62.9,92,56.5,85.6,54.7,74.2,56.5,62.8,62.9,56.4,74.3,54.6],
  [74.3,59.8,82.6,61.7,86.7,65.8,88.6,74.1,86.7,82.4,82.6,86.5,74.3,88.4,66,86.5,61.9,82.4,60,74.1,61.9,65.8,66,61.7,74.3,59.8],
  [74.2,67.1,78.2,68.2,80.1,70.1,81.2,74.1,80.1,78.1,78.2,80,74.2,81.1,70.2,80,68.3,78.1,67.2,74.1,68.3,70.1,70.2,68.2,74.2,67.1],
];
const gaussSolid = [
  [74.3,6.3,85.7,8.1,92.1,14.5,93.9,25.9,92.1,37.3,85.7,43.7,74.3,45.5,62.9,43.7,56.5,37.3,54.7,25.9,56.5,14.5,62.9,8.1,74.3,6.3],
  [74.3,11.6,82.6,13.5,86.7,17.6,88.6,25.9,86.7,34.2,82.6,38.3,74.3,40.2,66,38.3,61.9,34.2,60,25.9,61.9,17.6,66,13.5,74.3,11.6],
  [74.2,18.9,78.2,20,80.1,21.9,81.2,25.9,80.1,29.9,78.2,31.8,74.2,32.9,70.2,31.8,68.3,29.9,67.2,25.9,68.3,21.9,70.2,20,74.2,18.9],
  [25.9,54.6,37.3,56.4,43.7,62.8,45.5,74.2,43.7,85.6,37.3,92,25.9,93.8,14.5,92,8.1,85.6,6.3,74.2,8.1,62.8,14.5,56.4,25.9,54.6],
  [25.9,59.8,34.2,61.7,38.3,65.8,40.2,74.1,38.3,82.4,34.2,86.5,25.9,88.4,17.6,86.5,13.5,82.4,11.6,74.1,13.5,65.8,17.6,61.7,25.9,59.8],
  [26,67.1,30,68.2,31.9,70.1,33,74.1,31.9,78.1,30,80,26,81.1,22,80,20.1,78.1,19,74.1,20.1,70.1,22,68.2,26,67.1],
];
const gaussZero = [
  [50,1.8,50,48.4,51.5,50.05,98.1,50.05],
  [1.8,50.05,48.3,50.05,50,51.6,50,98.2],
];

const fields = [exactField, onhshField, fnoField, geoField, nogapField, convField, gaussField];
const dashedLines = [exactDashed, onhshDashed, fnoDashed, geoDashed, nogapDashed, convDashed, gaussDashed];
const solidLines = [exactSolid, onhshSolid, fnoSolid, geoSolid, nogapSolid, convSolid, gaussSolid];
const zeroLines = [exactZero, onhshZero, fnoZero, geoZero, nogapZero, convZero, gaussZero];

// layout, in page pixels
const colLeft = [21.5, 838, 1654, 2472];
const rowTop = [251, 966];
const panelWidth = 586;
const panelHeight = 584;
const barGap = 24.2;
const barWidth = 28.5;
const fontFamily = 'DejaVu Sans';
const lineColor = '#90c8c6';
const cells = Array.from({ length: 16 }, (_, i) => i);

const toPairs = (flat) => {
  const out = [];
  for (let i = 0; i < flat.length; i += 2) out.push([flat[i], flat[i + 1]]);
  return out;
};

const grid = [];
const xAxis = [];
const yAxis = [];
const series = [];
const titles = [{
  text: chartTitle,
  left: 1640,
  top: 31,
  padding: 0,
  textAlign: 'center',
  textStyle: { fontFamily, fontSize: 40, fontWeight: 'normal', color: '#000' },
}];
const heatSeriesIdx = [];

const addLine = (flat, axisIdx, dashed, smooth, width) => {
  series.push({
    type: 'line',
    xAxisIndex: axisIdx,
    yAxisIndex: axisIdx,
    data: toPairs(flat),
    showSymbol: false,
    smooth,
    silent: true,
    animation: false,
    lineStyle: {
      color: lineColor,
      width,
      type: dashed ? [6, 2.5] : 'solid',
    },
  });
};

panelNames.forEach((name, p) => {
  const col = p % 4;
  const row = Math.floor(p / 4);
  const left = colLeft[col];
  const top = rowTop[row];
  const base = grid.length;

  // field: category cells, on a zero-coloured backing so the cell seams do not show white
  grid.push({ left, top, width: panelWidth, height: panelHeight, show: true, backgroundColor: '#21908c', borderWidth: 0 });
  xAxis.push({ type: 'category', gridIndex: base, data: cells, show: false });
  yAxis.push({ type: 'category', gridIndex: base, data: cells, inverse: true, show: false });
  const heat = [];
  fields[p].forEach((values, r) => values.forEach((v, c) => heat.push([c, r, v / 1000])));
  heatSeriesIdx.push(series.length);
  series.push({ type: 'heatmap', xAxisIndex: base, yAxisIndex: base, data: heat, silent: true, animation: false, progressive: 0 });

  // contours: percent scale on the same rectangle
  grid.push({ left, top, width: panelWidth, height: panelHeight, show: false });
  xAxis.push({ type: 'value', gridIndex: base + 1, min: 0, max: 100, show: false });
  yAxis.push({ type: 'value', gridIndex: base + 1, min: 0, max: 100, inverse: true, show: false });
  dashedLines[p].forEach((l) => addLine(l, base + 1, true, 0.35, 1.8));
  solidLines[p].forEach((l) => addLine(l, base + 1, false, 0.35, 1.8));
  zeroLines[p].forEach((l) => addLine(l, base + 1, false, false, 2.4));

  // colorbar
  grid.push({
    left: left + panelWidth + barGap,
    top: top - 0.5,
    width: barWidth,
    height: panelHeight + 1,
    show: true,
    borderColor: '#000',
    borderWidth: 2.5,
    backgroundColor: {
      type: 'linear', x: 0, y: 0, x2: 0, y2: 1,
      colorStops: viridis.map((c, i) => ({ offset: 1 - i / (viridis.length - 1), color: c })),
    },
  });
  xAxis.push({ type: 'value', gridIndex: base + 2, show: false });
  yAxis.push({
    type: 'value',
    gridIndex: base + 2,
    position: 'right',
    min: -colorbarLimit,
    max: colorbarLimit,
    splitLine: { show: false },
    axisLine: { show: false },
    axisTick: { show: true, customValues: colorbarTicks, length: 11, lineStyle: { color: '#000', width: 2.5 } },
    axisLabel: {
      customValues: colorbarTicks,
      margin: 9,
      fontFamily,
      fontSize: 27.5,
      color: '#000',
      formatter: (v) => '{t|' + v.toFixed(2).replace('-', '\u2212') + '}',
      rich: { t: { fontFamily, fontSize: 27.5, color: '#000', padding: [7, 0, 0, 0] } },
    },
    name: 'Temperature',
    nameLocation: 'middle',
    nameRotate: 90,
    nameGap: 119,
    nameTextStyle: { fontFamily, fontSize: 28, color: '#000' },
  });

  titles.push({
    text: name,
    left: left + panelWidth / 2,
    top: top - 38,
    padding: 0,
    textAlign: 'center',
    textStyle: { fontFamily, fontSize: 28, fontWeight: 'normal', color: '#000' },
  });
});

const chart = echarts.init(document.getElementById('chart'), null, { renderer: 'canvas' });
chart.setOption({
  animation: false,
  backgroundColor: '#fff',
  title: titles,
  grid,
  xAxis,
  yAxis,
  visualMap: {
    show: false,
    type: 'continuous',
    min: -colorbarLimit,
    max: colorbarLimit,
    dimension: 2,
    seriesIndex: heatSeriesIdx,
    inRange: { color: viridis },
  },
  series,
});
</script>
</body>
</html>
